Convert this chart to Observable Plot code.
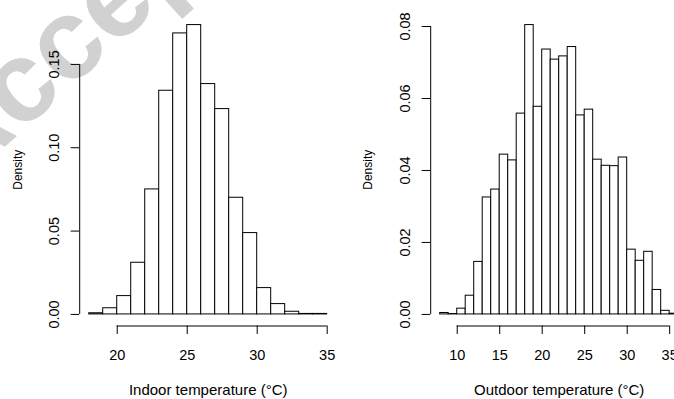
<!DOCTYPE html>
<html><head><meta charset="utf-8">
<script src="https://cdn.jsdelivr.net/npm/d3@7"></script>
<script src="https://cdn.jsdelivr.net/npm/@observablehq/plot@0.6"></script>
<style>
html,body{margin:0;padding:0;background:#fff;overflow:hidden;}
#wrap{position:relative;width:674px;height:399px;overflow:hidden;background:#fff;}
#wm{position:absolute;left:0;top:0;}
.panel{position:absolute;top:0;}
</style></head><body>
<div id="wrap">
<svg id="wm" width="674" height="399"><text x="0" y="0" transform="translate(-42,189) rotate(-42)" font-family="Liberation Sans, Arial, sans-serif" font-weight="bold" font-size="114" fill="#d1d1d1">Accepted Manuscript</text></svg>
<div id="left" class="panel" style="left:0;width:337px"></div>
<div id="right" class="panel" style="left:337px;width:352px"></div>
</div>
<script>
// Indoor temperature histogram (bin edges, density per bin)
const indoorBreaks = [18,19,20,21,22,23,24,25,26,27,28,29,30,31,32,33,34,35];
const indoorDensity = [0.0007,0.0037,0.0110,0.0310,0.0750,0.1342,0.1686,0.1736,0.1382,0.1232,0.0700,0.0488,0.0158,0.0062,0.0016,0.0003,0.0003];
const indoorXTicks = [20,25,30,35];
const indoorYTicks = [0,0.05,0.10,0.15];
const indoorTitle = "Indoor temperature (°C)";

// Outdoor temperature histogram
const outdoorBreaks = [8,9,10,11,12,13,14,15,16,17,18,19,20,21,22,23,24,25,26,27,28,29,30,31,32,33,34,35,36];
const outdoorDensity = [0.0004,0.0001,0.0016,0.0052,0.0146,0.0325,0.0347,0.0444,0.0428,0.0558,0.0804,0.0577,0.0736,0.0708,0.0717,0.0743,0.0553,0.0569,0.0430,0.0413,0.0412,0.0436,0.0180,0.0149,0.0174,0.0068,0.0010,0.0002];
const outdoorXTicks = [10,15,20,25,30,35];
const outdoorYTicks = [0,0.02,0.04,0.06,0.08];
const outdoorTitle = "Outdoor temperature (°C)";

const yLabel = "Density";

function panel({breaks, density, xTicks, yTicks, xTitle, width, marginLeft, marginRight, densityDx}) {
  const bins = density.map((d, i) => ({x1: breaks[i], x2: breaks[i + 1], y: d}));
  const [b0, b1] = d3.extent(breaks);
  const ex = (b1 - b0) * 0.04;
  const ymax = d3.max(density);
  const ey = ymax * 0.04;
  const xDomain = [b0 - ex, b1 + ex];
  const yDomain = [-ey, ymax + ey];
  return Plot.plot({
    width, height: 399, marginLeft, marginRight, marginTop: 13, marginBottom: 73.5,
    x: {domain: xDomain},
    y: {domain: yDomain},
    style: {background: "none", fontFamily: "'Liberation Sans', Arial, sans-serif", fontSize: "14.5px", color: "black", overflow: "visible", maxWidth: "none"},
    marks: [
      Plot.rect(bins, {x1: "x1", x2: "x2", y1: 0, y2: "y", fill: "white", stroke: "black", strokeWidth: 1}),
      Plot.ruleX([xDomain[0]], {y1: yTicks[0], y2: yTicks[yTicks.length - 1], stroke: "black"}),
      Plot.ruleY([yDomain[0]], {x1: xTicks[0], x2: xTicks[xTicks.length - 1], stroke: "black"}),
      Plot.axisX({ticks: xTicks, tickSize: 8.5, tickPadding: 15, tickFormat: d => String(d), label: null}),
      Plot.axisY({ticks: yTicks, tickSize: 8.5, tickPadding: 12, tickRotate: -90, tickFormat: d3.format(".2f"), label: null}),
      Plot.text([yLabel], {text: d => d, frameAnchor: "left", textAnchor: "middle", rotate: -90, dx: densityDx, dy: 0, lineAnchor: "bottom", fontSize: 12}),
      Plot.text([xTitle], {text: d => d, frameAnchor: "bottom", textAnchor: "middle", dy: 69, lineAnchor: "bottom", fontSize: 15})
    ]
  });
}

document.getElementById("left").append(panel({
  breaks: indoorBreaks, density: indoorDensity, xTicks: indoorXTicks, yTicks: indoorYTicks,
  xTitle: indoorTitle, width: 337, marginLeft: 79.2, marginRight: 0.8, densityDx: -57.5
}));
document.getElementById("right").append(panel({
  breaks: outdoorBreaks, density: outdoorDensity, xTicks: outdoorXTicks, yTicks: outdoorYTicks,
  xTitle: outdoorTitle, width: 352, marginLeft: 93.2, marginRight: 1.8, densityDx: -59.2
}));
</script>
</body></html>
